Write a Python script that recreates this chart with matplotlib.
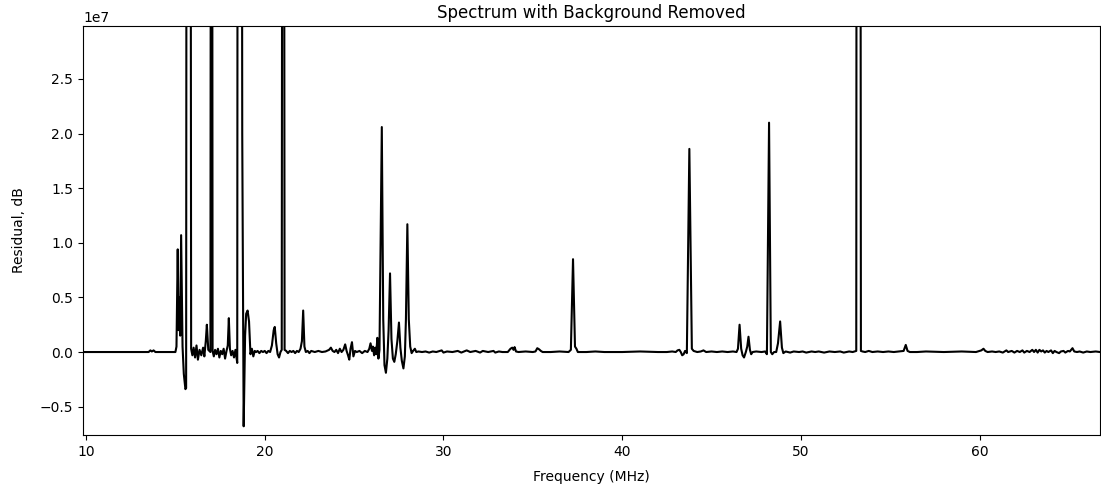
import numpy as np
import matplotlib
matplotlib.use("Agg")
import matplotlib.pyplot as plt

# frequency (MHz) and residual (units of 1e6)
freq_mhz = [
    9.83, 13.50, 13.60, 13.68, 13.78, 13.88, 15.00, 15.06, 15.13, 15.18,
    15.23, 15.27, 15.32, 15.40, 15.47, 15.56, 15.60, 15.66, 15.80, 15.88,
    15.95, 16.02, 16.10, 16.18, 16.26, 16.35, 16.45, 16.55, 16.62, 16.70,
    16.76, 16.84, 16.96, 17.02, 17.08, 17.15, 17.22, 17.30, 17.38, 17.46,
    17.54, 17.62, 17.70, 17.78, 17.86, 17.93, 17.99, 18.05, 18.12, 18.20,
    18.28, 18.36, 18.46, 18.52, 18.66, 18.74, 18.82, 18.90, 18.96, 19.04,
    19.12, 19.20, 19.28, 19.36, 19.44, 19.52, 19.60, 19.70, 19.80, 19.90,
    20.00, 20.10, 20.20, 20.30, 20.40, 20.50, 20.56, 20.64, 20.72, 20.80,
    20.88, 20.95, 21.03, 21.11, 21.20, 21.30, 21.40, 21.50, 21.60, 21.70,
    21.80, 21.90, 22.00, 22.08, 22.15, 22.22, 22.30, 22.40, 22.50, 22.60,
    22.80, 23.00, 23.20, 23.40, 23.60, 23.70, 23.80, 23.90, 24.00, 24.10,
    24.20, 24.30, 24.40, 24.50, 24.58, 24.66, 24.73, 24.80, 24.88, 24.96,
    25.05, 25.15, 25.30, 25.45, 25.60, 25.75, 25.85, 25.92, 26.00, 26.05,
    26.12, 26.18, 26.24, 26.30, 26.36, 26.42, 26.55, 26.63, 26.70, 26.78,
    26.86, 26.93, 27.01, 27.09, 27.17, 27.25, 27.33, 27.42, 27.51, 27.59,
    27.67, 27.76, 27.84, 27.90, 27.98, 28.06, 28.14, 28.22, 28.30, 28.40,
    28.48, 28.60, 28.80, 29.00, 29.20, 29.40, 29.60, 29.90, 30.00, 30.20,
    30.50, 30.80, 31.00, 31.30, 31.50, 31.80, 32.05, 32.20, 32.50, 32.80,
    32.90, 33.10, 33.30, 33.60, 33.75, 33.85, 33.92, 33.98, 34.06, 34.20,
    34.60, 35.00, 35.15, 35.25, 35.35, 35.45, 35.55, 36.00, 36.50, 37.00,
    37.13, 37.25, 37.36, 37.44, 37.52, 38.00, 38.50, 39.00, 40.00, 41.00,
    42.00, 42.50, 42.80, 43.00, 43.10, 43.20, 43.28, 43.36, 43.44, 43.52,
    43.62, 43.76, 43.90, 44.00, 44.20, 44.40, 44.55, 44.70, 45.00, 45.30,
    45.60, 45.90, 46.20, 46.40, 46.48, 46.57, 46.66, 46.74, 46.82, 46.92,
    47.00, 47.07, 47.15, 47.22, 47.30, 47.50, 47.80, 48.00, 48.10, 48.22,
    48.32, 48.40, 48.50, 48.62, 48.72, 48.84, 48.94, 49.02, 49.15, 49.40,
    49.60, 49.90, 50.10, 50.30, 50.60, 50.80, 51.00, 51.30, 51.60, 51.90,
    52.20, 52.40, 52.70, 52.90, 53.10, 53.15, 53.29, 53.36, 53.45, 53.60,
    53.80, 54.00, 54.30, 54.60, 54.90, 55.20, 55.50, 55.75, 55.87, 55.97,
    56.10, 56.50, 57.00, 58.00, 59.00, 59.80, 60.10, 60.22, 60.32, 60.45,
    60.70, 60.90, 61.10, 61.30, 61.50, 61.60, 61.80, 61.95, 62.10, 62.25,
    62.40, 62.50, 62.65, 62.80, 62.95, 63.05, 63.15, 63.25, 63.35, 63.45,
    63.55, 63.65, 63.75, 63.85, 64.00, 64.10, 64.20, 64.30, 64.45, 64.55,
    64.70, 64.80, 64.95, 65.05, 65.20, 65.30, 65.45, 65.60, 65.80, 66.00,
    66.20, 66.50, 66.74,
]
residual_e6 = [
    0.0, 0.0, 0.15, 0.05, 0.15, 0.0, 0.0, 0.5, 9.4, 2.0,
    5.0, 1.5, 10.7, 0.5, -2.0, -3.4, -3.3, 150, 150, 0.3,
    -0.3, 0.4, -0.5, 0.6, -0.7, 0.2, -0.3, 0.4, -0.4, 1.0,
    2.5, 0.2, 0.0, 150, 0.1, -0.4, 0.2, -0.2, 0.3, -0.5,
    0.1, -0.2, 0.3, -0.6, 0.1, 0.6, 3.1, 0.3, -0.3, 0.1,
    -0.5, 0.2, -1.0, 150, 150, 20, -6.8, 1.5, 3.5, 3.8,
    2.8, -0.2, 0.3, -0.4, 0.1, 0.0, 0.1, -0.1, 0.1, 0.0,
    0.1, -0.1, 0.1, 0.0, 0.6, 2.0, 2.3, 0.8, -0.2, -0.5,
    0.0, 0.2, 150, 0.2, 0.1, -0.1, 0.1, 0.0, 0.1, -0.1,
    0.1, 0.0, 0.3, 1.0, 3.8, 0.5, 0.0, 0.1, -0.1, 0.1,
    0.0, 0.1, 0.0, 0.05, 0.2, 0.4, 0.1, 0.0, 0.2, -0.1,
    0.3, 0.0, 0.2, 0.7, 0.1, -0.3, -0.7, 0.3, 0.9, -0.4,
    0.1, 0.0, 0.1, -0.1, 0.1, 0.0, 0.3, 0.8, 0.1, 0.5,
    -0.3, 0.4, -0.2, 1.3, -0.6, 0.2, 20.6, 3.0, -1.2, -1.9,
    -0.6, 2.0, 7.2, 1.2, -0.6, -0.9, -0.2, 1.0, 2.7, 0.4,
    -0.8, -1.5, -0.4, 3.0, 11.7, 3.0, 0.5, -0.1, 0.1, 0.3,
    0.0, 0.05, 0.0, 0.05, -0.05, 0.05, 0.0, 0.15, -0.05, 0.05,
    0.0, 0.1, -0.05, 0.15, 0.0, 0.1, -0.05, 0.1, 0.0, 0.1,
    -0.05, 0.05, 0.0, 0.0, 0.3, 0.4, 0.2, 0.45, 0.05, 0.0,
    0.05, 0.0, 0.05, 0.35, 0.25, 0.1, 0.0, 0.0, 0.05, 0.0,
    0.2, 8.5, 0.5, 0.3, 0.0, 0.0, 0.05, 0.0, 0.0, 0.05,
    0.0, 0.0, 0.05, 0.0, 0.15, 0.2, 0.0, -0.3, -0.2, 0.1,
    -0.1, 18.6, 0.3, 0.1, 0.0, 0.05, 0.15, 0.0, 0.05, 0.0,
    0.05, 0.0, 0.05, 0.0, 0.3, 2.5, 0.3, -0.3, -0.5, 0.0,
    0.5, 1.4, 0.2, -0.2, 0.0, 0.05, 0.0, 0.05, -0.2, 21.0,
    0.0, -0.2, 0.0, 0.0, 0.8, 2.8, 0.4, -0.1, 0.05, -0.05,
    0.05, 0.0, 0.05, -0.05, 0.05, 0.0, 0.05, -0.05, 0.05, 0.0,
    0.05, -0.05, 0.05, 0.0, 0.1, 150, 150, 0.1, 0.05, 0.0,
    0.1, 0.0, 0.05, 0.0, 0.05, 0.0, 0.05, 0.1, 0.65, 0.1,
    0.0, 0.0, 0.05, 0.0, 0.05, 0.0, 0.15, 0.3, 0.1, 0.0,
    0.05, 0.0, 0.05, -0.05, 0.15, 0.0, 0.1, -0.05, 0.1, 0.0,
    0.15, -0.05, 0.1, 0.0, 0.2, 0.0, 0.2, -0.05, 0.2, 0.05,
    0.15, -0.05, 0.1, 0.0, 0.15, -0.1, 0.1, 0.0, -0.1, 0.05,
    0.1, -0.05, 0.1, 0.05, 0.35, 0.05, 0.0, 0.05, -0.05, 0.05,
    0.0, 0.05, 0.0,
]

freq = np.array(freq_mhz)
residual = np.array(residual_e6) * 1e6

fig, ax = plt.subplots(figsize=(11.01, 4.91), dpi=100)
fig.subplots_adjust(left=0.0754, right=0.9991, bottom=0.114, top=0.947)

ax.plot(freq, residual, color='black', lw=1.5)
ax.set_xlim(9.83, 66.74)
ax.set_ylim(-0.76e7, 2.985e7)
ax.set_title("Spectrum with Background Removed")
ax.set_xlabel("Frequency (MHz)", labelpad=8)
ax.set_ylabel("Residual, dB", labelpad=10)

fig.savefig("out.png", dpi=100)
